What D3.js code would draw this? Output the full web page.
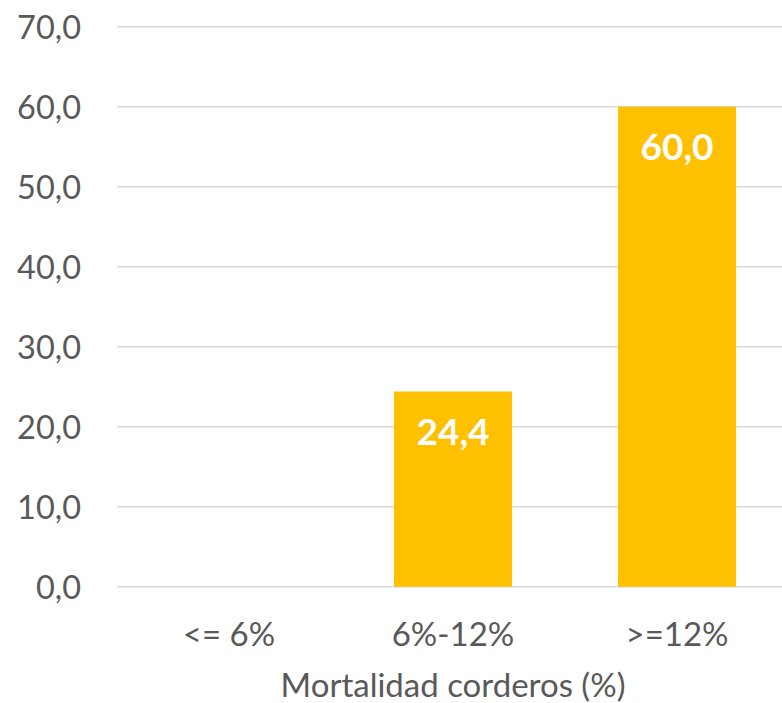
<!DOCTYPE html>
<html><head><meta charset="utf-8">
<script src="https://cdn.jsdelivr.net/npm/d3@7"></script>
<style>html,body{margin:0;padding:0;background:#fff;}svg{display:block;}</style>
</head><body>
<script>
const categories = ["<= 6%", "6%-12%", ">=12%"];
const values = [0, 24.4, 60.0];
const yTicks = [0, 10, 20, 30, 40, 50, 60, 70];
const axisTitle = "Mortalidad corderos (%)";

const W = 782, H = 703;
const m = {left: 117, right: 789, top: 26.7, bottom: 586.7};
const svg = d3.select("body").append("svg").attr("width", W).attr("height", H);
const font = "Lato, 'Open Sans', sans-serif";

const x = d3.scaleBand().domain(categories).range([m.left, m.right]).paddingInner(0.473).paddingOuter(0.2365);
const y = d3.scaleLinear().domain([0, 70]).range([m.bottom, m.top]);
const fmt = v => d3.format(".1f")(v).replace(".", ",");

// gridlines
svg.append("g").selectAll("line").data(yTicks).join("line")
  .attr("x1", m.left).attr("x2", m.right)
  .attr("y1", d => y(d)).attr("y2", d => y(d))
  .attr("stroke", "#d9d9d9").attr("stroke-width", 1.5);

// y labels
const yAxis = d3.axisLeft(y).tickValues(yTicks).tickFormat(fmt).tickSize(0).tickPadding(36);
const ga = svg.append("g").attr("transform", `translate(${m.left},0)`).call(yAxis);
ga.select(".domain").remove();
ga.selectAll("text").attr("font-family", font).attr("font-size", 32.5).attr("fill", "#595959").attr("dy", "0.35em");

// bars
const bw = 118;
svg.append("g").selectAll("rect").data(values).join("rect")
  .attr("x", (d, i) => x(categories[i]) + x.bandwidth() / 2 - bw / 2)
  .attr("width", bw)
  .attr("y", d => y(d))
  .attr("height", d => y(0) - y(d))
  .attr("fill", "#FFC000");

// data labels
svg.append("g").selectAll("text").data(values.map((v, i) => ({v, c: categories[i]})).filter(d => d.v > 0)).join("text")
  .attr("x", d => x(d.c) + x.bandwidth() / 2)
  .attr("y", d => y(d.v) + 53)
  .attr("text-anchor", "middle")
  .attr("font-family", font).attr("font-weight", "bold").attr("font-size", 37)
  .attr("fill", "#fff").text(d => fmt(d.v));

// x labels
const xAxis = d3.axisBottom(x).tickSize(0).tickPadding(0);
const gx = svg.append("g").attr("transform", `translate(0,${m.bottom})`).call(xAxis);
gx.select(".domain").remove();
gx.selectAll("text").attr("font-family", font).attr("font-size", 33).attr("fill", "#595959")
  .attr("dy", null).attr("y", 59);

// axis title
svg.append("text").attr("x", (m.left + m.right) / 2).attr("y", 697)
  .attr("text-anchor", "middle").attr("font-family", font).attr("font-size", 33)
  .attr("fill", "#595959").text(axisTitle);
</script>
</body></html>
